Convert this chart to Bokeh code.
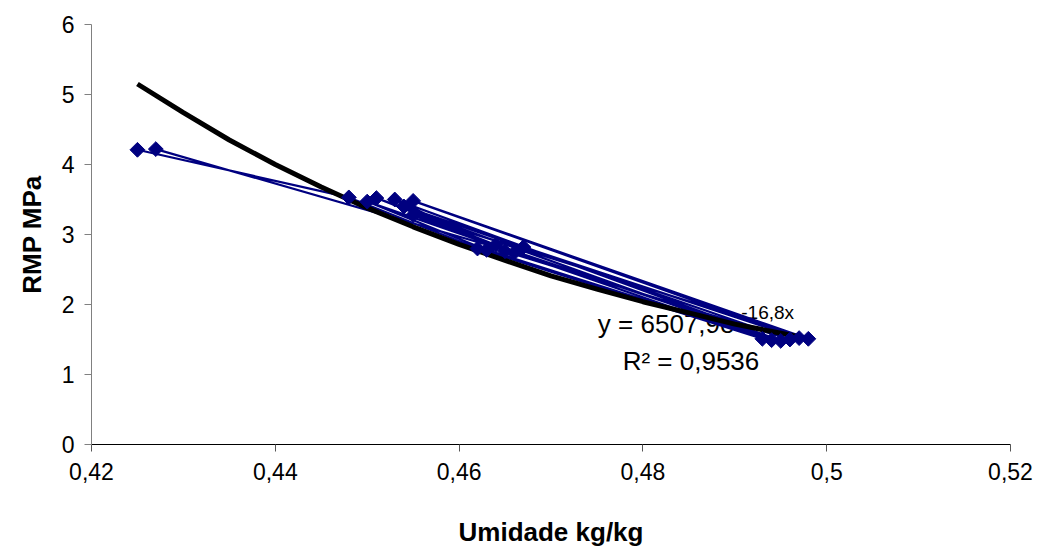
import numpy as np
from bokeh.plotting import figure
from bokeh.models import Range1d, FixedTicker, CustomJSTickFormatter, ColumnDataSource
from bokeh.core.properties import value
from bokeh.embed import file_html
from bokeh.resources import INLINE

# Measured data (Umidade kg/kg vs RMP MPa), in the order the points are joined
umidade = [0.425, 0.448, 0.462, 0.493, 0.450, 0.463, 0.494, 0.451, 0.464, 0.495,
           0.453, 0.465, 0.496, 0.454, 0.467, 0.497, 0.455, 0.498, 0.455, 0.466, 0.427]
rmp = [4.21, 3.53, 2.80, 1.51, 3.47, 2.78, 1.49, 3.52, 2.85, 1.48,
       3.50, 2.76, 1.50, 3.40, 2.82, 1.52, 3.48, 1.51, 3.28, 2.74, 4.22]

# Exponential trendline
trend_x = [0.425, 0.430, 0.435, 0.440, 0.445, 0.450, 0.455, 0.460, 0.465,
           0.470, 0.475, 0.480, 0.485, 0.490, 0.495, 0.498]
trend_y = [5.15, 4.74, 4.35, 4.00, 3.68, 3.38, 3.11, 2.86, 2.63,
           2.41, 2.22, 2.04, 1.88, 1.72, 1.59, 1.51]

x_ticks = [0.42, 0.44, 0.46, 0.48, 0.50, 0.52]
y_ticks = [0, 1, 2, 3, 4, 5, 6]

eq_text = "y = 6507,9e"
eq_exp = "-16,8x"
r2_text = "R\u00b2 = 0,9536"

FONT = "Liberation Sans"

p = figure(width=1048, height=549, output_backend="svg", toolbar_location=None,
           x_range=Range1d(0.42, 0.52), y_range=Range1d(0, 6),
           min_border_left=91, min_border_right=38, min_border_top=24, min_border_bottom=103)
p.outline_line_color = None
p.xgrid.visible = False
p.ygrid.visible = False
p.background_fill_color = "white"
p.border_fill_color = "white"

# equation labels (drawn first so the series lines cover them, as in the reference)
p.text(x=[0.4751], y=[1.72], text=[eq_text], text_font=value(FONT), text_font_size="26px",
       text_align="left", text_baseline="middle", text_color="black")
p.text(x=[0.4907], y=[1.88], text=[eq_exp], text_font=value(FONT), text_font_size="19px",
       text_align="left", text_baseline="middle", text_color="black")
p.text(x=[0.4778], y=[1.195], text=[r2_text], text_font=value(FONT), text_font_size="26px",
       text_align="left", text_baseline="middle", text_color="black")

src = ColumnDataSource(dict(x=umidade, y=rmp))
p.line("x", "y", source=src, line_color="#000080", line_width=2.2)
p.line(trend_x, trend_y, line_color="black", line_width=5, line_join="round")
p.scatter("x", "y", source=src, marker="square", angle=np.pi / 4, size=10.5,
          fill_color="#000080", line_color="#000080")

fmt = CustomJSTickFormatter(code="""
let s = tick.toFixed(2);
if (s.indexOf('.') >= 0) { s = s.replace(/0+$/, '').replace(/\\.$/, ''); }
return s.replace('.', ',');
""")

p.xaxis.ticker = FixedTicker(ticks=x_ticks)
p.xaxis.formatter = fmt
p.yaxis.ticker = FixedTicker(ticks=y_ticks)

for ax in (p.xaxis[0], p.yaxis[0]):
    ax.major_label_text_font = FONT
    ax.major_label_text_font_size = "23px"
    ax.major_label_text_color = "black"
    ax.axis_label_text_font = FONT
    ax.axis_label_text_font_size = "26px"
    ax.axis_label_text_font_style = "bold"
    ax.axis_label_text_color = "black"
    ax.minor_tick_line_color = None
    ax.major_tick_in = 0
    ax.major_tick_out = 7
    ax.major_tick_line_width = 1

p.xaxis.axis_label = "Umidade kg/kg"
p.yaxis.axis_label = "RMP MPa"
p.xaxis.axis_line_color = "black"
p.xaxis.major_tick_line_color = "#555555"
p.yaxis.axis_line_color = "#808080"
p.yaxis.major_tick_line_color = "#808080"
p.xaxis.major_label_standoff = 11
p.xaxis.axis_label_standoff = 34
p.yaxis.major_label_standoff = 10
p.yaxis.axis_label_standoff = 12

open("out.html", "w").write(file_html(p, INLINE))
